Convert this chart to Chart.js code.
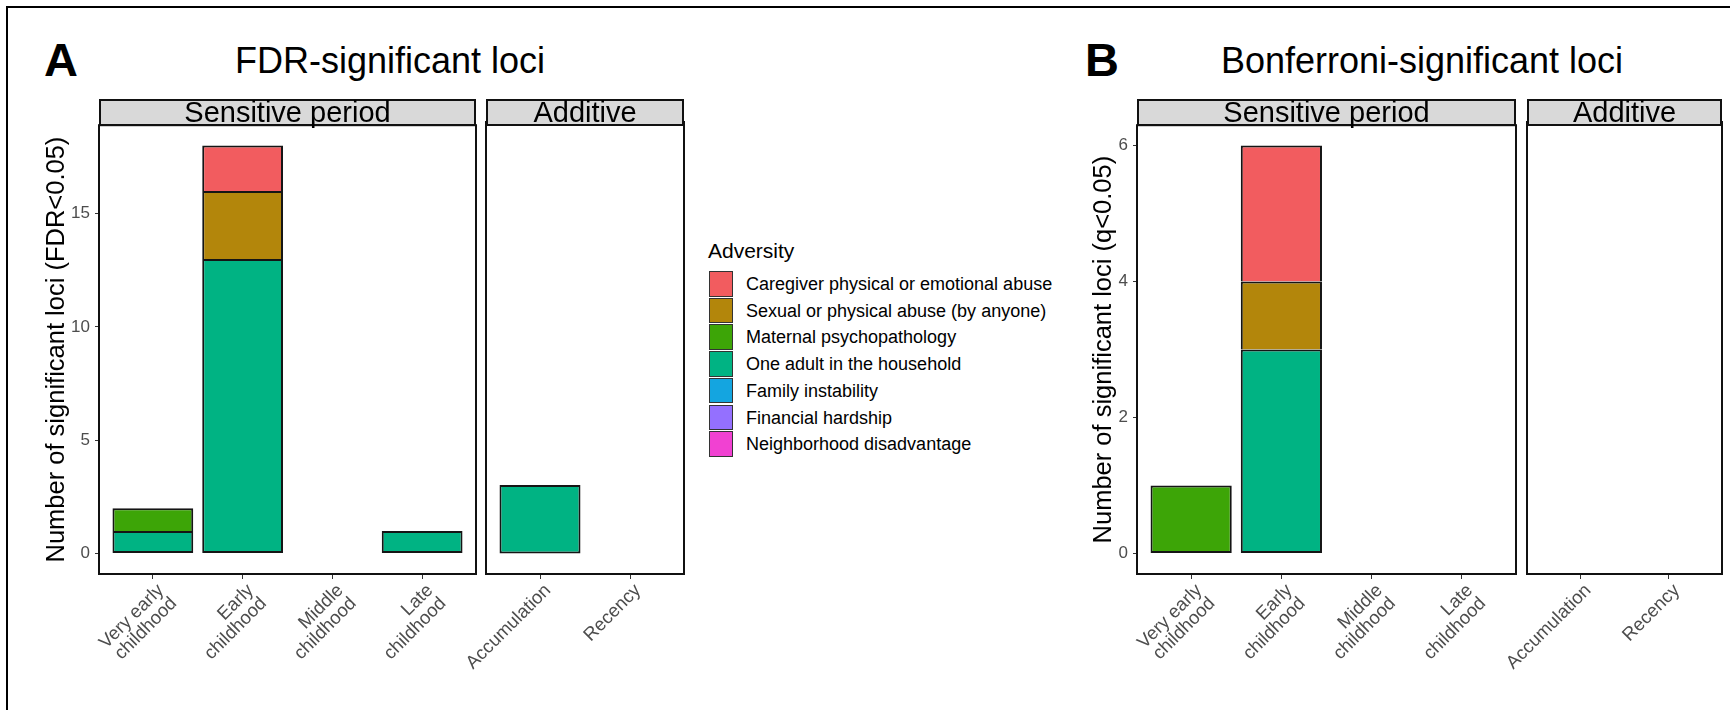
<!DOCTYPE html>
<html>
<head>
<meta charset="utf-8">
<script src="https://cdn.jsdelivr.net/npm/chart.js@4.4.1/dist/chart.umd.min.js"></script>
<style>
  html, body { margin: 0; padding: 0; background: #fff; }
  body { width: 1730px; height: 710px; position: relative; overflow: hidden;
         font-family: "Liberation Sans", Arial, sans-serif; }
  .frame { position: absolute; left: 6px; top: 6px; width: 1740px; height: 720px;
           border: 2.5px solid #000; box-sizing: border-box; }
  .tag { position: absolute; font-weight: bold; font-size: 47px; line-height: 47px; }
  .title { position: absolute; font-size: 36px; line-height: 36px; white-space: nowrap;
           transform: translateX(-50%); }
  .strip { position: absolute; height: 27px; background: #d9d9d9; border: 2px solid #111;
           box-sizing: border-box; text-align: center; font-size: 29px; line-height: 23px;
           z-index: 2; }
  canvas { position: absolute; }
  .legend-title { position: absolute; left: 708px; top: 240px; font-size: 21px; line-height: 21px; }
  .key { position: absolute; left: 709px; width: 24px; height: 25.5px; border: 1.5px solid #333;
         box-sizing: border-box; }
  .key-label { position: absolute; left: 746px; font-size: 18px; line-height: 20px; white-space: nowrap; }
</style>
</head>
<body>
<div class="frame"></div>
<div class="tag" style="left:44px; top:36px;">A</div>
<div class="title" style="left:390px; top:43px;">FDR-significant loci</div>
<div class="tag" style="left:1085px; top:36px;">B</div>
<div class="title" style="left:1422px; top:43px;">Bonferroni-significant loci</div>

<canvas id="fdrSens" width="458" height="600" style="left:20px; top:110px;"></canvas>
<canvas id="fdrAdd" width="260" height="600" style="left:426px; top:110px;"></canvas>
<canvas id="bonfSens" width="458" height="600" style="left:1060px; top:110px;"></canvas>
<canvas id="bonfAdd" width="257" height="600" style="left:1467px; top:110px;"></canvas>

<div class="strip" style="left:99px; top:99px; width:377px;">Sensitive period</div>
<div class="strip" style="left:486px; top:99px; width:198px;">Additive</div>
<div class="strip" style="left:1137px; top:99px; width:379px;">Sensitive period</div>
<div class="strip" style="left:1527px; top:99px; width:195px;">Additive</div>

<div id="legend"></div>

<script>
// categories
const adversity = [
    'Caregiver physical or emotional abuse',
    'Sexual or physical abuse (by anyone)',
    'Maternal psychopathology',
    'One adult in the household',
    'Family instability',
    'Financial hardship',
    'Neighborhood disadvantage'
];
const adversityColors = ['#f25c5f', '#b3860b', '#3da507', '#00b383', '#14a5e0', '#9470ff', '#f141d2'];
const sensitiveCats = [['Very early', 'childhood'], ['Early', 'childhood'], ['Middle', 'childhood'], ['Late', 'childhood']];
const additiveCats = ['Accumulation', 'Recency'];

// counts of significant loci, one row per adversity (same order as above)
const fdrSensitive = [
    [0, 2, 0, 0],
    [0, 3, 0, 0],
    [1, 0, 0, 0],
    [1, 13, 0, 1],
    [0, 0, 0, 0],
    [0, 0, 0, 0],
    [0, 0, 0, 0]
];
const fdrAdditive = [[0, 0], [0, 0], [0, 0], [3, 0], [0, 0], [0, 0], [0, 0]];
const bonfSensitive = [
    [0, 2, 0, 0],
    [0, 1, 0, 0],
    [1, 0, 0, 0],
    [0, 3, 0, 0],
    [0, 0, 0, 0],
    [0, 0, 0, 0],
    [0, 0, 0, 0]
];
const bonfAdditive = [[0, 0], [0, 0], [0, 0], [0, 0], [0, 0], [0, 0], [0, 0]];

// y axes
const fdrTicks = [0, 5, 10, 15];
const fdrRange = [-0.9, 18.9];
const bonfTicks = [0, 2, 4, 6];
const bonfRange = [-0.3, 6.3];

Chart.defaults.font.family = '"Liberation Sans", Arial, sans-serif';

// ggplot-like panel border around the chart area
const panelBox = {
    id: 'panelBox',
    afterDatasetsDraw(chart) {
        const a = chart.chartArea;
        const ctx = chart.ctx;
        ctx.save();
        ctx.strokeStyle = '#111';
        ctx.lineWidth = 2;
        ctx.strokeRect(a.left, a.top, a.right - a.left, a.bottom - a.top);
        ctx.restore();
    }
};

// bottom segment of a stack keeps its bottom edge, upper ones skip it
function skipEdge(ctx) {
    const sets = ctx.chart.data.datasets;
    const x = ctx.raw ? ctx.raw.x : null;
    for (let d = 0; d < ctx.datasetIndex; d++) {
        if (sets[d].data.some(p => p.x === x)) return 'start';
    }
    return false;
}

function buildDatasets(rows) {
    const sets = [];
    // ggplot stacks the first level on top, Chart.js stacks dataset 0 at the bottom
    for (let k = rows.length - 1; k >= 0; k--) {
        const pts = [];
        rows[k].forEach((v, i) => { if (v > 0) pts.push({ x: i, y: v }); });
        sets.push({
            label: adversity[k],
            data: pts,
            backgroundColor: adversityColors[k],
            borderColor: '#151515',
            borderWidth: 2,
            borderSkipped: skipEdge,
            inflateAmount: 0,
            categoryPercentage: 1,
            barPercentage: 0.9
        });
    }
    return sets;
}

function makePanel(id, cats, rows, ticks, range, yTitle, yWidth, titlePad) {
    const showY = yTitle !== null;
    return new Chart(document.getElementById(id), {
        type: 'bar',
        data: { datasets: buildDatasets(rows) },
        plugins: [panelBox],
        options: {
            responsive: false,
            animation: false,
            events: [],
            layout: { padding: { top: 12, right: 2, left: 0, bottom: 0 } },
            plugins: { legend: { display: false }, tooltip: { enabled: false } },
            scales: {
                x: {
                    type: 'linear',
                    stacked: true,
                    offset: false,
                    min: -0.6,
                    max: cats.length - 0.4,
                    afterBuildTicks: (scale) => { scale.ticks = cats.map((c, i) => ({ value: i })); },
                    afterFit: (scale) => { scale.height = 136; },
                    grid: { offset: false, drawOnChartArea: false, drawTicks: true, tickLength: 5,
                            color: '#333', tickColor: '#333', lineWidth: 1 },
                    border: { display: false },
                    ticks: {
                        autoSkip: false,
                        minRotation: 45,
                        maxRotation: 45,
                        padding: 2,
                        labelOffset: 8,
                        color: '#4d4d4d',
                        font: { size: 18.5, lineHeight: 1.0 },
                        callback: (value) => cats[value]
                    }
                },
                y: {
                    stacked: true,
                    min: range[0],
                    max: range[1],
                    afterBuildTicks: (scale) => { scale.ticks = ticks.map(v => ({ value: v })); },
                    afterFit: (scale) => { scale.width = yWidth; },
                    grid: { display: showY, drawOnChartArea: false, drawTicks: true, tickLength: 4,
                            color: '#333', tickColor: '#333', lineWidth: 1 },
                    border: { display: false },
                    ticks: { display: showY, padding: 5, color: '#4d4d4d', font: { size: 17 } },
                    title: {
                        display: showY,
                        text: yTitle || '',
                        color: '#000',
                        font: { size: 25.5 },
                        padding: { top: titlePad, bottom: 0 }
                    }
                }
            }
        }
    });
}

makePanel('fdrSens', sensitiveCats, fdrSensitive, fdrTicks, fdrRange,
          'Number of significant loci (FDR<0.05)', 79, 21.5);
makePanel('fdrAdd', additiveCats, fdrAdditive, fdrTicks, fdrRange, null, 60, 0);
makePanel('bonfSens', sensitiveCats, bonfSensitive, bonfTicks, bonfRange,
          'Number of significant loci (q<0.05)', 77, 28.5);
makePanel('bonfAdd', additiveCats, bonfAdditive, bonfTicks, bonfRange, null, 60, 0);

// legend
const legend = document.getElementById('legend');
let html = '<div class="legend-title">Adversity</div>';
adversity.forEach((name, i) => {
    const top = 271 + i * 26.7;
    html += '<div class="key" style="top:' + top + 'px; background:' + adversityColors[i] + ';"></div>';
    html += '<div class="key-label" style="top:' + (top + 3) + 'px;">' + name + '</div>';
});
legend.innerHTML = html;
</script>
</body>
</html>
